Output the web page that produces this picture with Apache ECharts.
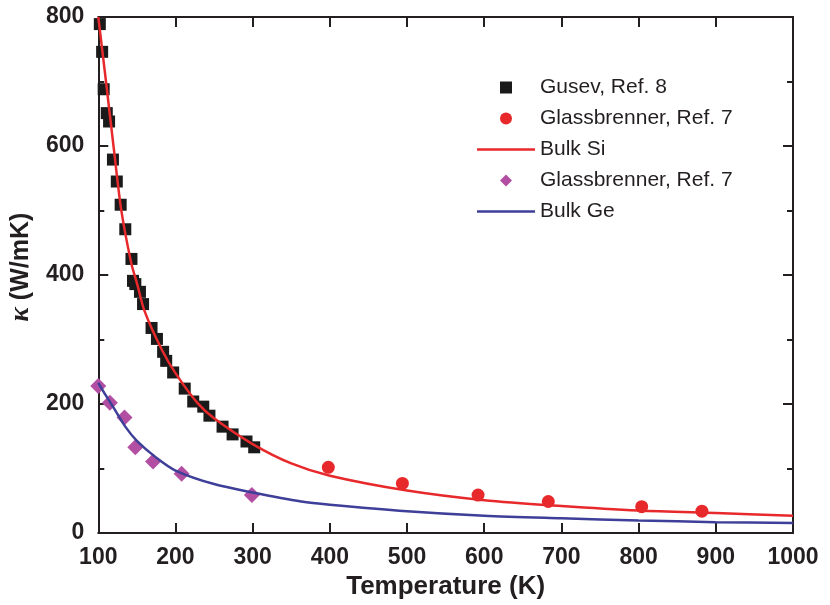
<!DOCTYPE html>
<html>
<head>
<meta charset="utf-8">
<script src="https://cdn.jsdelivr.net/npm/echarts@6/dist/echarts.min.js"></script>
<style>
  html, body { margin: 0; padding: 0; background: #fff; }
  #main { width: 830px; height: 605px; }
</style>
</head>
<body>
<div id="main"></div>
<script>
// Gusev, Ref. 8 (Si) - [T, kappa]
const gusevSi = [
  [102, 789], [105, 746], [107, 688], [111, 651], [114, 638], [119, 579],
  [124, 545], [129, 509], [135, 471], [143, 425], [145, 391], [148, 386],
  [154, 374], [158, 355], [169, 318], [176, 301], [184, 281], [188, 267],
  [197, 249], [212, 224], [223, 204], [236, 196], [244, 182], [261, 165],
  [274, 153], [292, 142], [302, 133]
];
// Glassbrenner, Ref. 7 (Si)
const glassSi = [[398, 102], [494, 77], [592, 59], [683, 49], [804, 41], [882, 34]];
// Glassbrenner, Ref. 7 (Ge)
const glassGe = [[100, 228], [115, 202], [134, 179], [148, 133], [171, 111], [208, 92], [299, 59]];

// bulk curves
const siT = [100, 110, 120, 130, 143, 150, 160, 182, 200, 229, 250, 300, 350, 400, 500, 600, 700, 800, 900, 1000];
const siK = [800, 700, 597, 499, 417, 388, 344, 285, 248, 201, 178, 138, 108, 89, 66, 51, 42, 35, 31, 27];
const geT = [100, 110, 120, 135, 150, 175, 200, 250, 300, 363, 400, 500, 600, 700, 800, 900, 1000];
const geK = [233, 213, 194, 165, 143, 117, 97, 76, 63, 49, 44, 34, 27, 23, 19.6, 17, 15.6];

const xTicks = [100, 200, 300, 400, 500, 600, 700, 800, 900, 1000];
const yTicks = [0, 200, 400, 600, 800];

const axisColor = '#231f20';
const font = 'Liberation Sans, Arial, sans-serif';

function pairs(xs, ys) {
  return xs.map((x, i) => [x, ys[i]]);
}

let chart = echarts.init(document.getElementById('main'));

const baseX = {
  type: 'value',
  min: xTicks[0],
  max: xTicks[xTicks.length - 1],
  interval: 100,
  splitLine: { show: false },
  axisLine: { show: true, onZero: false, lineStyle: { color: axisColor, width: 2 } },
  axisTick: { show: true, inside: true, length: 10, lineStyle: { color: axisColor, width: 2 } }
};
const baseY = {
  type: 'value',
  min: yTicks[0],
  max: yTicks[yTicks.length - 1],
  interval: 200,
  splitLine: { show: false },
  minorSplitLine: { show: false },
  axisLine: { show: true, onZero: false, lineStyle: { color: axisColor, width: 2 } },
  axisTick: { show: true, inside: true, length: 10, lineStyle: { color: axisColor, width: 2 } },
  minorTick: { show: true, splitNumber: 2, length: 6, lineStyle: { color: axisColor, width: 2 } }
};

// legend icons as paths so they keep their aspect ratio
const lineIcon = 'path://M0,0 L58,0 L58,2.5 L0,2.5 Z';
const squareIcon = 'path://M0,0 L10,0 L10,10 L0,10 Z';
const circleIcon = 'path://M10,5 A5,5 0 1 1 0,5 A5,5 0 1 1 10,5 Z';
const diamondIcon = 'path://M5,0 L10,5 L5,10 L0,5 Z';

let option = {
  animation: false,
  backgroundColor: '#fff',
  textStyle: { fontFamily: font },
  grid: { left: 97, right: 37, top: 17, bottom: 65 },
  legend: {
    orient: 'vertical',
    left: 472,
    top: 72,
    itemWidth: 58,
    itemHeight: 12,
    itemGap: 10,
    textStyle: { fontSize: 21, color: axisColor, fontFamily: font },
    data: [
      { name: 'Gusev, Ref. 8', icon: squareIcon },
      { name: 'Glassbrenner, Ref. 7', icon: circleIcon },
      { name: 'Bulk Si', icon: lineIcon },
      { name: 'Glassbrenner, Ref. 7 ', icon: diamondIcon },
      { name: 'Bulk Ge', icon: lineIcon }
    ]
  },
  xAxis: [
    Object.assign({}, baseX, {
      position: 'bottom',
      name: 'Temperature (K)',
      nameLocation: 'middle',
      nameGap: 37,
      nameTextStyle: { fontSize: 26, fontWeight: 'bold', color: axisColor, fontFamily: font },
      axisLabel: {
        fontSize: 23, fontWeight: 'bold', color: axisColor, margin: 13, fontFamily: font,
        formatter: v => String(v)
      }
    }),
    Object.assign({}, baseX, { position: 'top', axisLabel: { show: false } })
  ],
  yAxis: [
    Object.assign({}, baseY, {
      position: 'left',
      name: '{k|κ} (W/mK)',
      nameLocation: 'middle',
      nameRotate: 90,
      nameGap: 55,
      nameTextStyle: {
        fontSize: 25, fontWeight: 'bold', color: axisColor, fontFamily: font,
        padding: [0, 0, 0, 16],
        rich: { k: { fontSize: 27, fontStyle: 'italic', fontWeight: 'bold', fontFamily: 'Liberation Serif, serif', color: axisColor } }
      },
      axisLabel: {
        fontSize: 23, fontWeight: 'bold', color: axisColor, margin: 14, fontFamily: font,
        formatter: v => String(v)
      }
    }),
    Object.assign({}, baseY, { position: 'right', axisLabel: { show: false } })
  ],
  series: [
    {
      name: 'Gusev, Ref. 8',
      type: 'scatter',
      symbol: 'rect',
      symbolSize: 12,
      itemStyle: { color: '#1a1a1a', opacity: 1 },
      data: gusevSi,
      z: 2
    },
    {
      name: 'Glassbrenner, Ref. 7',
      type: 'scatter',
      symbol: 'circle',
      symbolSize: 13,
      itemStyle: { color: '#e8292c', opacity: 1 },
      data: glassSi,
      z: 2
    },
    {
      name: 'Bulk Si',
      type: 'line',
      smooth: 0.3,
      showSymbol: false,
      symbol: 'none',
      lineStyle: { color: '#e8292c', width: 2.5 },
      itemStyle: { color: '#e8292c' },
      data: pairs(siT, siK),
      z: 4
    },
    {
      name: 'Glassbrenner, Ref. 7 ',
      type: 'scatter',
      symbol: 'diamond',
      symbolSize: [16, 16],
      itemStyle: { color: '#b24fa3', opacity: 1 },
      data: glassGe,
      z: 2
    },
    {
      name: 'Bulk Ge',
      type: 'line',
      smooth: 0.3,
      showSymbol: false,
      symbol: 'none',
      lineStyle: { color: '#3e3f98', width: 2.5 },
      itemStyle: { color: '#3e3f98' },
      data: pairs(geT, geK),
      z: 4
    }
  ]
};

chart.setOption(option);
</script>
</body>
</html>
